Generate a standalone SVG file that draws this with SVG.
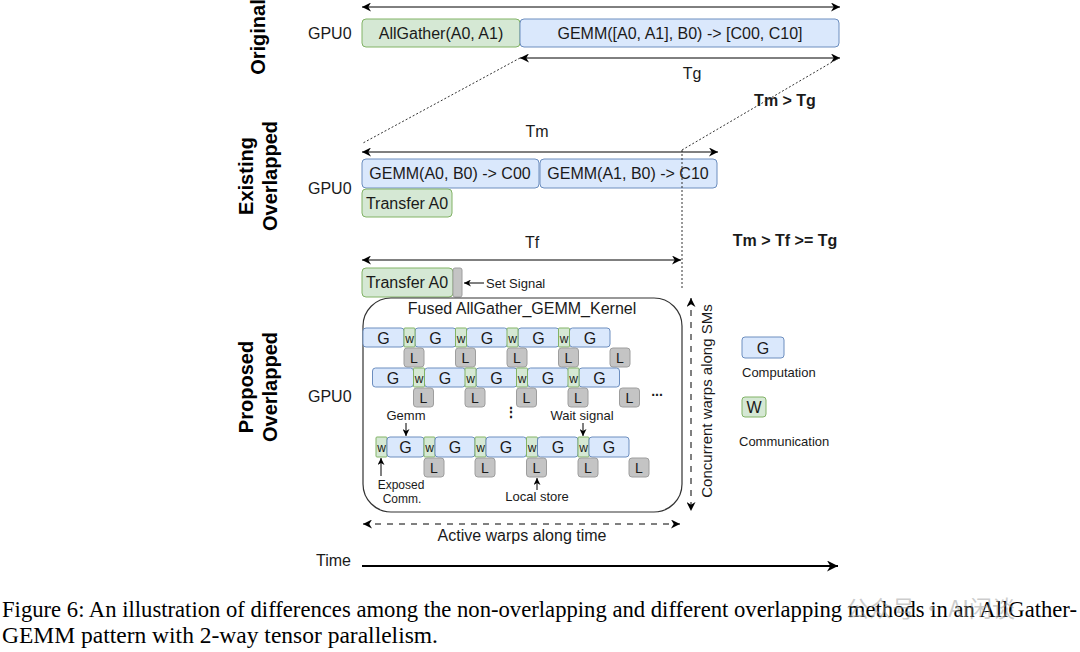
<svg xmlns="http://www.w3.org/2000/svg" width="1080" height="652" viewBox="0 0 1080 652">
<style>
text{font-family:"Liberation Sans",Arial,sans-serif;fill:#1a1a1a}
.t16{font-size:16px}
.t15{font-size:15px}
.t14{font-size:14px}
.t13{font-size:13px}
.t12{font-size:12px}
.mid{text-anchor:middle}
.bold{font-weight:bold}
.sec{font-size:20px;font-weight:bold;text-anchor:middle;fill:#000}
.blue{fill:#dae8fc;stroke:#6c8ebf;stroke-width:1}
.green{fill:#d5e8d4;stroke:#82b366;stroke-width:1}
.gray{fill:#c4c4c4;stroke:#9e9e9e;stroke-width:1}
.ln{stroke:#000;stroke-width:1;fill:none}
.dot{stroke:#333;stroke-width:1;fill:none;stroke-dasharray:2 2}
.dash{stroke:#000;stroke-width:1;fill:none;stroke-dasharray:6 6}
.cap{font-family:"Liberation Serif","Times New Roman",serif;font-size:23.5px;fill:#000}
</style>
<defs>
<marker id="ah" viewBox="0 0 10 10" refX="10" refY="5" markerWidth="9" markerHeight="9" orient="auto-start-reverse" markerUnits="userSpaceOnUse">
<path d="M0,0 L10,5 L0,10 L3,5 z" fill="#000"/>
</marker>
<marker id="ahs" viewBox="0 0 10 10" refX="10" refY="5" markerWidth="7" markerHeight="7" orient="auto-start-reverse" markerUnits="userSpaceOnUse">
<path d="M0,0 L10,5 L0,10 L3,5 z" fill="#000"/>
</marker>
<marker id="ahb" viewBox="0 0 10 10" refX="10" refY="5" markerWidth="11" markerHeight="11" orient="auto" markerUnits="userSpaceOnUse">
<path d="M0,0 L10,5 L0,10 L3,5 z" fill="#000"/>
</marker>
</defs>
<rect width="1080" height="652" fill="#fff"/>

<!-- section labels -->
<g id="labels">
<text class="sec" transform="rotate(-90 265 37)" x="265" y="37">Original</text>
<text class="sec" transform="rotate(-90 253 176)" x="253" y="176">Existing</text>
<text class="sec" transform="rotate(-90 277 176)" x="277" y="176">Overlapped</text>
<text class="sec" transform="rotate(-90 253 387)" x="253" y="387">Proposed</text>
<text class="sec" transform="rotate(-90 277 387)" x="277" y="387">Overlapped</text>
<text class="t16" x="308" y="39">GPU0</text>
<text class="t16" x="308" y="194">GPU0</text>
<text class="t16" x="308" y="402">GPU0</text>
<text class="t16" x="316" y="566">Time</text>
<text class="t16 mid" x="692" y="79">Tg</text>
<text class="t16 mid" x="537" y="137">Tm</text>
<text class="t16 mid" x="532" y="248">Tf</text>
<text class="t16 mid bold" x="785" y="106">Tm &gt; Tg</text>
<text class="t16 mid bold" x="785" y="246">Tm &gt; Tf &gt;= Tg</text>
</g>

<!-- Original -->
<g id="orig-allgather"><rect class="green" x="362" y="19" width="158" height="28" rx="4"/><text class="t16 mid" x="441" y="39">AllGather(A0, A1)</text></g>
<g id="orig-gemm"><rect class="blue" x="520" y="19" width="319" height="28" rx="4"/><text class="t16 mid" x="680" y="39">GEMM([A0, A1], B0) -&gt; [C00, C10]</text></g>

<!-- Existing -->
<g id="ex-gemm0"><rect class="blue" x="362" y="159" width="177" height="29" rx="4"/><text class="t16 mid" x="450" y="179">GEMM(A0, B0) -&gt; C00</text></g>
<g id="ex-gemm1"><rect class="blue" x="540" y="159" width="177" height="29" rx="4"/><text class="t16 mid" x="628" y="179">GEMM(A1, B0) -&gt; C10</text></g>
<g id="ex-transfer"><rect class="green" x="362" y="189" width="90" height="28" rx="4"/><text class="t16 mid" x="407" y="209">Transfer A0</text></g>

<!-- Proposed -->
<g id="pr-transfer"><rect class="green" x="362" y="268" width="91" height="29" rx="4"/><text class="t16 mid" x="407" y="288">Transfer A0</text></g>
<g id="pr-signal"><rect class="gray" x="453" y="268" width="9" height="29" rx="2"/></g>
<g id="pr-setsignal"><text class="t13" x="486" y="288">Set Signal</text></g>

<g id="fused">
<rect x="363" y="298" width="319" height="214" rx="28" fill="none" stroke="#333" stroke-width="1.2"/>
<text class="t16 mid" x="522" y="314">Fused AllGather_GEMM_Kernel</text>
</g>

<g id="row1">
<rect class="blue" x="363" y="328" width="41" height="19" rx="3"/><text class="t16 mid" x="383.5" y="343.5">G</text>
<rect class="blue" x="415" y="328" width="41" height="19" rx="3"/><text class="t16 mid" x="435.5" y="343.5">G</text>
<rect class="blue" x="466.5" y="328" width="41" height="19" rx="3"/><text class="t16 mid" x="487" y="343.5">G</text>
<rect class="blue" x="518" y="328" width="41" height="19" rx="3"/><text class="t16 mid" x="538.5" y="343.5">G</text>
<rect class="blue" x="569.5" y="328" width="40.5" height="19" rx="3"/><text class="t16 mid" x="590" y="343.5">G</text>
<rect class="green" x="404" y="328" width="11" height="19" rx="1"/><text class="t12 mid" x="409.5" y="343">w</text>
<rect class="green" x="455.5" y="328" width="11" height="19" rx="1"/><text class="t12 mid" x="461" y="343">w</text>
<rect class="green" x="507" y="328" width="11" height="19" rx="1"/><text class="t12 mid" x="512.5" y="343">w</text>
<rect class="green" x="558.5" y="328" width="11" height="19" rx="1"/><text class="t12 mid" x="564" y="343">w</text>
<rect class="gray" x="404" y="348" width="20" height="19" rx="3"/><text class="t14 mid" x="414" y="362.5">L</text>
<rect class="gray" x="455.5" y="348" width="20" height="19" rx="3"/><text class="t14 mid" x="465.5" y="362.5">L</text>
<rect class="gray" x="507" y="348" width="20" height="19" rx="3"/><text class="t14 mid" x="517" y="362.5">L</text>
<rect class="gray" x="558.5" y="348" width="20" height="19" rx="3"/><text class="t14 mid" x="568.5" y="362.5">L</text>
<rect class="gray" x="610" y="348" width="20" height="19" rx="3"/><text class="t14 mid" x="620" y="362.5">L</text>
</g>

<g id="row2">
<rect class="blue" x="372.5" y="368" width="41" height="19" rx="3"/><text class="t16 mid" x="393" y="383.5">G</text>
<rect class="blue" x="424.5" y="368" width="41" height="19" rx="3"/><text class="t16 mid" x="445" y="383.5">G</text>
<rect class="blue" x="476" y="368" width="41" height="19" rx="3"/><text class="t16 mid" x="496.5" y="383.5">G</text>
<rect class="blue" x="527.5" y="368" width="41" height="19" rx="3"/><text class="t16 mid" x="548" y="383.5">G</text>
<rect class="blue" x="579" y="368" width="40.5" height="19" rx="3"/><text class="t16 mid" x="599.5" y="383.5">G</text>
<rect class="green" x="413.5" y="368" width="11" height="19" rx="1"/><text class="t12 mid" x="419" y="383">w</text>
<rect class="green" x="465" y="368" width="11" height="19" rx="1"/><text class="t12 mid" x="470.5" y="383">w</text>
<rect class="green" x="516.5" y="368" width="11" height="19" rx="1"/><text class="t12 mid" x="522" y="383">w</text>
<rect class="green" x="568" y="368" width="11" height="19" rx="1"/><text class="t12 mid" x="573.5" y="383">w</text>
<rect class="gray" x="413.5" y="388" width="20" height="19" rx="3"/><text class="t14 mid" x="423.5" y="402.5">L</text>
<rect class="gray" x="465" y="388" width="20" height="19" rx="3"/><text class="t14 mid" x="475" y="402.5">L</text>
<rect class="gray" x="516.5" y="388" width="20" height="19" rx="3"/><text class="t14 mid" x="526.5" y="402.5">L</text>
<rect class="gray" x="568" y="388" width="20" height="19" rx="3"/><text class="t14 mid" x="578" y="402.5">L</text>
<rect class="gray" x="619.5" y="388" width="20" height="19" rx="3"/><text class="t14 mid" x="629.5" y="402.5">L</text>
<text class="t14 mid bold" x="657" y="396">...</text>
<text class="t14 mid bold" x="511" y="417">⋮</text>
</g>

<g id="row3">
<rect class="green" x="376" y="437" width="11" height="20" rx="1"/><text class="t12 mid" x="381.5" y="452">w</text>
<rect class="blue" x="387" y="437" width="37" height="20" rx="3"/><text class="t16 mid" x="405.5" y="452.5">G</text>
<rect class="green" x="424" y="437" width="11" height="20" rx="1"/><text class="t12 mid" x="429.5" y="452">w</text>
<rect class="blue" x="435" y="437" width="40" height="20" rx="3"/><text class="t16 mid" x="455" y="452.5">G</text>
<rect class="green" x="475" y="437" width="11" height="20" rx="1"/><text class="t12 mid" x="480.5" y="452">w</text>
<rect class="blue" x="486" y="437" width="40.5" height="20" rx="3"/><text class="t16 mid" x="506" y="452.5">G</text>
<rect class="green" x="526.5" y="437" width="11" height="20" rx="1"/><text class="t12 mid" x="532" y="452">w</text>
<rect class="blue" x="537.5" y="437" width="40.5" height="20" rx="3"/><text class="t16 mid" x="558" y="452.5">G</text>
<rect class="green" x="578" y="437" width="11" height="20" rx="1"/><text class="t12 mid" x="583.5" y="452">w</text>
<rect class="blue" x="589" y="437" width="40" height="20" rx="3"/><text class="t16 mid" x="609" y="452.5">G</text>
<rect class="gray" x="424" y="458" width="20" height="19" rx="3"/><text class="t14 mid" x="434" y="472.5">L</text>
<rect class="gray" x="475" y="458" width="20" height="19" rx="3"/><text class="t14 mid" x="485" y="472.5">L</text>
<rect class="gray" x="526.5" y="458" width="20" height="19" rx="3"/><text class="t14 mid" x="536.5" y="472.5">L</text>
<rect class="gray" x="578" y="458" width="20" height="19" rx="3"/><text class="t14 mid" x="588" y="472.5">L</text>
<rect class="gray" x="629" y="458" width="20" height="19" rx="3"/><text class="t14 mid" x="639" y="472.5">L</text>
</g>

<g id="annotations">
<text class="t13 mid" x="406" y="420">Gemm</text>
<text class="t13 mid" x="582" y="420">Wait signal</text>
<text class="t12 mid" x="401" y="489">Exposed</text>
<text class="t12 mid" x="402" y="503">Comm.</text>
<text class="t13 mid" x="537" y="501">Local store</text>
<text class="t16 mid" x="522" y="541">Active warps along time</text>
<text class="t15 mid" transform="rotate(-90 712 401)" x="712" y="401">Concurrent warps along SMs</text>
</g>

<g id="legend">
<rect class="blue" x="742" y="337" width="42" height="21" rx="3"/><text class="t16 mid" x="763" y="353.5">G</text>
<text class="t13" x="742" y="377">Computation</text>
<rect class="green" x="742" y="397" width="24" height="20" rx="3"/><text class="t16 mid" x="754" y="413">W</text>
<text class="t13" x="739" y="446">Communication</text>
</g>

<g id="connectors">
<line class="ln" x1="362" y1="7" x2="840" y2="7" marker-start="url(#ah)" marker-end="url(#ah)"/>
<line class="ln" x1="520" y1="58" x2="840" y2="58" marker-start="url(#ah)" marker-end="url(#ah)"/>
<line class="dot" x1="520" y1="58" x2="363" y2="143"/>
<line class="dot" x1="839" y1="58" x2="682" y2="150"/>
<line class="dot" x1="682" y1="150" x2="682" y2="290"/>
<line class="ln" x1="362" y1="152" x2="718" y2="152" marker-start="url(#ah)" marker-end="url(#ah)"/>
<line class="ln" x1="362" y1="260" x2="681" y2="260" marker-start="url(#ah)" marker-end="url(#ah)"/>
<line class="ln" x1="484" y1="283" x2="464" y2="283" marker-end="url(#ahs)"/>
<line class="ln" x1="406" y1="423" x2="406" y2="436" marker-end="url(#ahs)"/>
<line class="ln" x1="583" y1="423" x2="583" y2="436" marker-end="url(#ahs)"/>
<line class="ln" x1="381" y1="476" x2="381" y2="458" marker-end="url(#ahs)"/>
<line class="ln" x1="537" y1="490" x2="537" y2="478" marker-end="url(#ahs)"/>
<line class="dash" x1="363" y1="524" x2="680" y2="524" marker-start="url(#ah)" marker-end="url(#ah)"/>
<line class="dash" x1="691" y1="298" x2="691" y2="511" marker-start="url(#ah)" marker-end="url(#ah)"/>
<line x1="362" y1="566" x2="838" y2="566" stroke="#000" stroke-width="2" marker-end="url(#ahb)"/>
</g>

<g id="caption">
<text class="cap" x="2" y="617" style="font-size:22.5px" textLength="1075" lengthAdjust="spacingAndGlyphs">Figure 6: An illustration of differences among the non-overlapping and different overlapping methods in an AllGather-</text>
<text class="cap" x="2" y="643">GEMM pattern with 2-way tensor parallelism.</text>
<text x="846" y="617" style="font-family:'Noto Sans CJK SC',sans-serif;font-size:23px;fill:#9a9a9a;fill-opacity:0.5">公众号 · AI闲谈</text>
</g>
</svg>
